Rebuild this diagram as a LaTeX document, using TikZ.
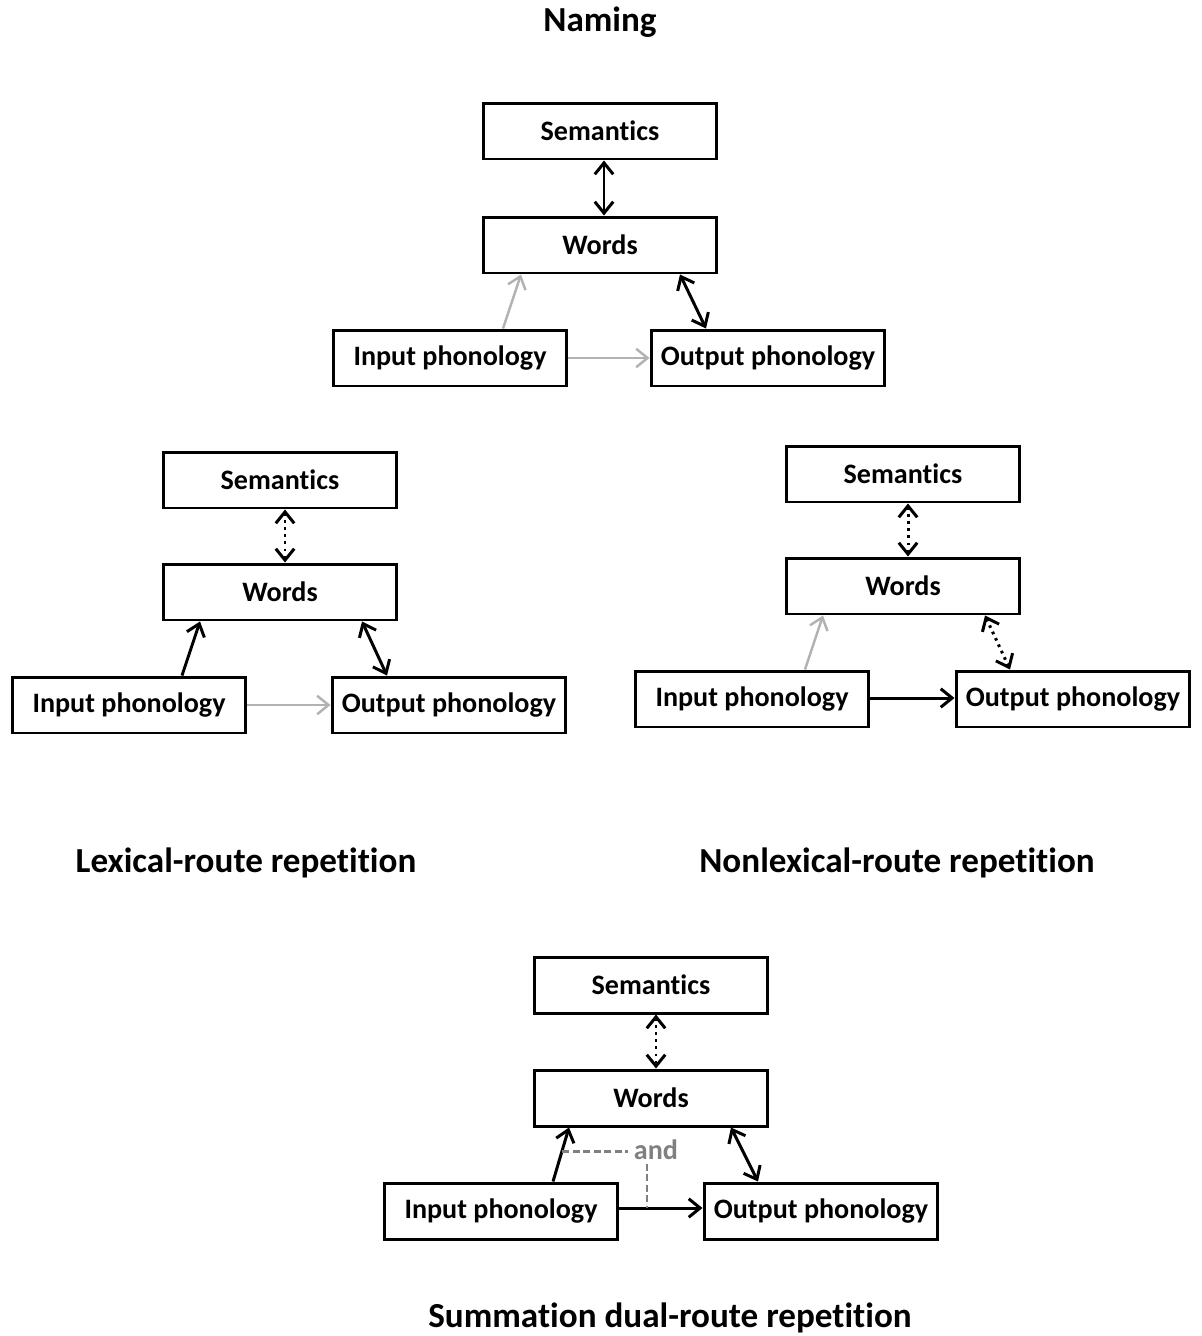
\documentclass[tikz,border=0pt]{standalone}
\usepackage{fontspec}
\setmainfont{Carlito}[Ligatures=NoCommon]
\usetikzlibrary{
    arrows.meta,
    calc,
    positioning
}
\tikzset{
    box/.style={draw, line width=1.7pt, minimum width=4.68cm, minimum height=1.12cm,
        inner sep=0pt, font=\fontsize{16}{19}\selectfont\bfseries},
    title/.style={font=\fontsize{20}{24}\selectfont\bfseries},
    link/.style={line width=1.7pt, -{Straight Barb[length=6.5pt,width=10.5pt]}},
    both/.style={line width=1.7pt, {Straight Barb[length=6.5pt,width=10.5pt]}-{Straight Barb[length=6.5pt,width=10.5pt]}},
    faint/.style={draw=black!30, line width=1.4pt},
    dots/.style={dash pattern=on 1.5pt off 2.5pt},
    andline/.style={draw=black!50, line width=1.4pt, dash pattern=on 4pt off 2pt},
    joinlabel/.style={text=black!50, inner xsep=3pt, inner ysep=2pt, font=\fontsize{16}{19}\selectfont\bfseries}
}

\begin{document}
\begin{tikzpicture}[x=0.02cm, y=-0.02cm]
    \useasboundingbox (0,0) rectangle (1201,1336);

    % naming
    \node[title] (t1) at (600,22) {Naming};
    \begin{scope}[shift={(600,131)}]
        \node[box] (sem1) at (0,0) {Semantics};
        \node[box] (words1) at (0,114) {Words};
        \node[box] (in1) at (-150,227) {Input phonology};
        \node[box] (out1) at (168,227) {Output phonology};
        \draw[both] ($(sem1.south)+(4,0)$) -- ($(words1.north)+(4,0)$);
        \draw[link, faint] ($(in1.north)+(53,0)$) -- ($(words1.south)+(-79,0)$);
        \draw[both] ($(words1.south)+(80,0)$) -- ($(out1.north)+(-62,0)$);
        \draw[link, faint] (in1) -- (out1);
    \end{scope}

    % lexical route
    \begin{scope}[shift={(280,480)}]
        \node[box] (sem2) at (0,0) {Semantics};
        \node[box] (words2) at (0,112) {Words};
        \node[box] (in2) at (-151,225) {Input phonology};
        \node[box] (out2) at (169,225) {Output phonology};
        \draw[both, dots] ($(sem2.south)+(5,0)$) -- ($(words2.north)+(5,0)$);
        \draw[link] ($(in2.north)+(53,0)$) -- ($(words2.south)+(-80,0)$);
        \draw[both] ($(words2.south)+(82,0)$) -- ($(out2.north)+(-62,0)$);
        \draw[link, faint] (in2) -- (out2);
    \end{scope}
    \node[title] (t2) at (246,863) {Lexical-route repetition};

    % nonlexical route
    \begin{scope}[shift={(903,474)}]
        \node[box] (sem3) at (0,0) {Semantics};
        \node[box] (words3) at (0,112) {Words};
        \node[box] (in3) at (-151,225) {Input phonology};
        \node[box] (out3) at (170,225) {Output phonology};
        \draw[both, dots] ($(sem3.south)+(5,0)$) -- ($(words3.north)+(5,0)$);
        \draw[link, faint] ($(in3.north)+(53,0)$) -- ($(words3.south)+(-80,0)$);
        \draw[both, dots] ($(words3.south)+(82,0)$) -- ($(out3.north)+(-63,0)$);
        \draw[link] ($(in3.east)+(0,-1)$) -- ($(out3.west)+(0,-1)$);
    \end{scope}
    \node[title] (t3) at (897,863) {Nonlexical-route repetition};

    % summation
    \begin{scope}[shift={(651,985)}]
        \node[box] (sem4) at (0,0) {Semantics};
        \node[box] (words4) at (0,113) {Words};
        \node[box] (in4) at (-150,226) {Input phonology};
        \node[box] (out4) at (170,226) {Output phonology};
        \draw[both, dots] ($(sem4.south)+(5,0)$) -- ($(words4.north)+(5,0)$);
        \draw[link] ($(in4.north)+(52,0)$) -- coordinate[pos=0.56] (j1) ($(words4.south)+(-82,0)$);
        \draw[both] ($(words4.south)+(80,0)$) -- ($(out4.north)+(-63,0)$);
        \draw[link] ($(in4.east)+(0,-3)$) -- coordinate[pos=0.33] (j2) ($(out4.west)+(0,-3)$);
        \node[joinlabel] (and4) at (5,165) {and};
        \draw[andline] (j1) -- (j1 -| and4.west);
        \draw[andline] (j2 |- and4.south) -- (j2);
    \end{scope}
    \node[title] (t4) at (670,1318) {Summation dual-route repetition};
\end{tikzpicture}
\end{document}
